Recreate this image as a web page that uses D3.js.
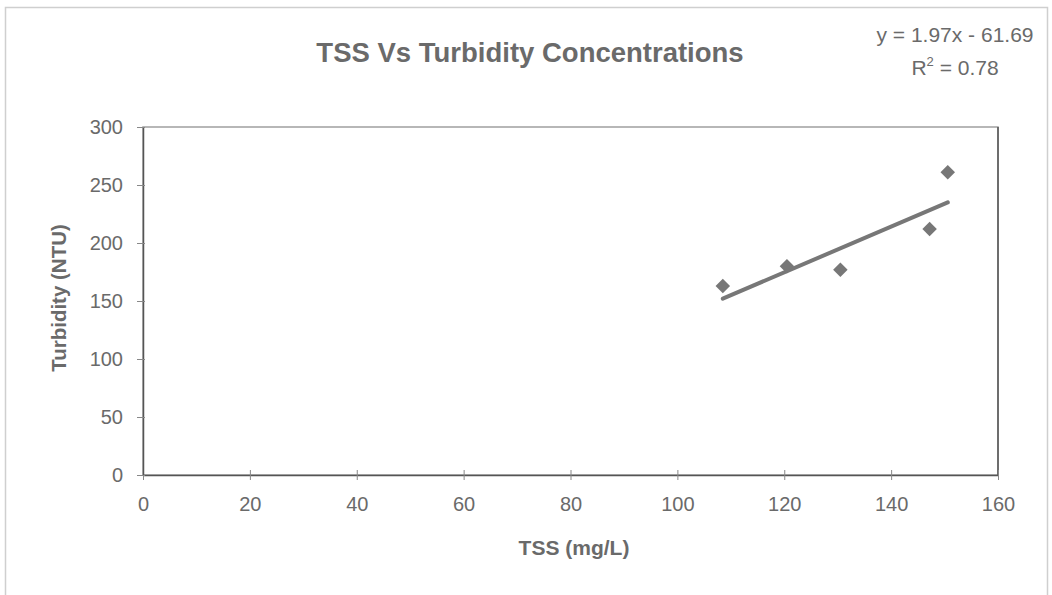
<!DOCTYPE html>
<html><head><meta charset="utf-8">
<script src="https://cdn.jsdelivr.net/npm/d3@7"></script>
<style>body{margin:0;background:#fff}svg{display:block}</style>
</head><body>
<svg id="c" width="1052" height="595"></svg>
<script>
const tss = [108.5, 120.5, 130.5, 147.2, 150.6];
const turbidity = [163, 180, 177, 212, 261];
const xTicks = [0, 20, 40, 60, 80, 100, 120, 140, 160];
const yTicks = [0, 50, 100, 150, 200, 250, 300];
const slope = 1.97, intercept = -61.69;
const eqText = "y = 1.97x - 61.69";
const r2Value = "0.78";

const svg = d3.select("#c");
const x = d3.scaleLinear().domain([0, 160]).range([143, 998]);
const y = d3.scaleLinear().domain([0, 300]).range([475, 127]);
const grey = "#6a6a6a";
const font = "'Liberation Sans',Arial,sans-serif";

// outer frame
svg.append("rect").attr("x", 5.5).attr("y", 7.5).attr("width", 1042).attr("height", 600)
  .attr("fill", "none").attr("stroke", "#cfcfcf").attr("stroke-width", 1.5);

// plot box
svg.append("rect").attr("x", x(0)).attr("y", y(300)).attr("width", x(160) - x(0)).attr("height", y(0) - y(300))
  .attr("fill", "none").attr("stroke", "#a0a0a0").attr("stroke-width", 1.5);
svg.append("line").attr("x1", x(160)).attr("x2", x(160)).attr("y1", y(300)).attr("y2", y(0))
  .attr("stroke", "#555").attr("stroke-width", 1.5);

// axes
const xAxis = svg.append("g").attr("transform", `translate(0,${y(0)})`)
  .call(d3.axisBottom(x).tickValues(xTicks).tickSize(5).tickPadding(17).tickSizeOuter(0));
const yAxis = svg.append("g").attr("transform", `translate(${x(0)},0)`)
  .call(d3.axisLeft(y).tickValues(yTicks).tickSize(6).tickPadding(14).tickSizeOuter(0));
[xAxis, yAxis].forEach(g => {
  g.select(".domain").attr("stroke", "#555").attr("stroke-width", 1.5);
  g.selectAll(".tick line").attr("stroke", "#888");
  g.selectAll("text").attr("fill", grey).style("font-family", font).style("font-size", "20px");
});
xAxis.selectAll(".tick line").attr("y1", -5);
yAxis.selectAll(".tick line").attr("x1", 2);

// trend line
const xs0 = d3.min(tss), xs1 = d3.max(tss);
svg.append("line")
  .attr("x1", x(xs0)).attr("y1", y(slope * xs0 + intercept))
  .attr("x2", x(xs1)).attr("y2", y(slope * xs1 + intercept))
  .attr("stroke", "#777").attr("stroke-width", 4).attr("stroke-linecap", "round");

// points
svg.append("g").selectAll("path").data(tss.map((d, i) => [d, turbidity[i]])).join("path")
  .attr("d", d3.symbol(d3.symbolSquare, 105)())
  .attr("transform", d => `translate(${x(d[0])},${y(d[1])}) rotate(45)`)
  .attr("fill", "#777");

// titles
svg.append("text").attr("x", 530).attr("y", 62).attr("text-anchor", "middle")
  .attr("fill", grey).style("font-family", font).style("font-weight", "bold").style("font-size", "27.5px")
  .text("TSS Vs Turbidity Concentrations");
svg.append("text").attr("x", 574).attr("y", 555).attr("text-anchor", "middle")
  .attr("fill", grey).style("font-family", font).style("font-weight", "bold").style("font-size", "21px")
  .text("TSS (mg/L)");
svg.append("text").attr("transform", "translate(66,298) rotate(-90)").attr("text-anchor", "middle")
  .attr("fill", grey).style("font-family", font).style("font-weight", "bold").style("font-size", "20.5px")
  .text("Turbidity (NTU)");

// equation
svg.append("text").attr("x", 955).attr("y", 42).attr("text-anchor", "middle")
  .attr("fill", grey).style("font-family", font).style("font-size", "21px").text(eqText);
const r2 = svg.append("text").attr("x", 955).attr("y", 75).attr("text-anchor", "middle")
  .attr("fill", grey).style("font-family", font).style("font-size", "21px");
r2.append("tspan").text("R");
r2.append("tspan").attr("dy", -9).style("font-size", "13px").text("2");
r2.append("tspan").attr("dy", 9).text(" = " + r2Value);
</script>
</body></html>
